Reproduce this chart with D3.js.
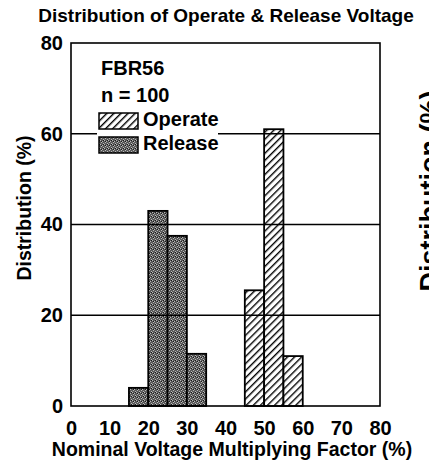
<!DOCTYPE html>
<head>
  <style>
    body { margin: 0; background: #fff; }
    text { font-family: "Liberation Sans", Arial, sans-serif; font-weight: bold; fill: #000; }
  </style>
</head>
<body>
<svg id="chart" width="429" height="468"></svg>
<script src="https://d3js.org/d3.v7.min.js"></script>
<script>

// bin start (%) and share of relays (%)
var releaseBins = [15, 20, 25, 30];
var releaseVals = [4, 43, 37.5, 11.5];
var operateBins = [45, 50, 55];
var operateVals = [25.5, 61, 11];
var binWidth = 5;
var xTicks = [0, 10, 20, 30, 40, 50, 60, 70, 80];
var yTicks = [0, 20, 40, 60, 80];
var gridVals = [20, 40, 60];

var svg = d3.select("#chart");
// note: "top" is window.top, so use other names
var plotL = 71, plotR = 380, plotT = 43, plotB = 406;

var x = d3.scaleLinear().domain([0, 80]).range([plotL, plotR]);
var y = d3.scaleLinear().domain([0, 80]).range([plotB, plotT]);

var defs = svg.append("defs");

// diagonal hatch for operate
var hatch = defs.append("pattern")
    .attr("id", "hatch")
    .attr("patternUnits", "userSpaceOnUse")
    .attr("width", 5).attr("height", 5)
    .attr("patternTransform", "rotate(45)");
hatch.append("rect").attr("width", 5).attr("height", 5).attr("fill", "#fff");
hatch.append("line").attr("x1", 0).attr("y1", 0).attr("x2", 0).attr("y2", 5)
    .attr("stroke", "#000").attr("stroke-width", 2.8);

// grainy dark stipple for release
var dots = defs.append("pattern")
    .attr("id", "stipple")
    .attr("patternUnits", "userSpaceOnUse")
    .attr("width", 4).attr("height", 4);
dots.append("rect").attr("width", 4).attr("height", 4).attr("fill", "#5a5a5a");
[[0,0],[2,1],[1,2],[3,3],[3,0],[1,1]].forEach(function(p, i) {
  dots.append("rect").attr("x", p[0]).attr("y", p[1]).attr("width", 1).attr("height", 1)
      .attr("fill", i < 4 ? "#b8b8b8" : "#1a1a1a");
});

svg.append("rect")
    .attr("x", plotL).attr("y", plotT)
    .attr("width", plotR - plotL).attr("height", plotB - plotT)
    .attr("fill", "#fff");

function drawBars(bins, vals, fill) {
  svg.append("g").selectAll("rect")
    .data(bins)
    .enter().append("rect")
      .attr("x", function(d) { return x(d); })
      .attr("y", function(d, i) { return y(vals[i]); })
      .attr("width", function(d) { return x(d + binWidth) - x(d); })
      .attr("height", function(d, i) { return y(0) - y(vals[i]); })
      .attr("fill", fill)
      .attr("stroke", "#000")
      .attr("stroke-width", 1.8);
}
drawBars(releaseBins, releaseVals, "url(#stipple)");
drawBars(operateBins, operateVals, "url(#hatch)");

// grid lines sit on top of the bars
svg.append("g").selectAll("line")
  .data(gridVals)
  .enter().append("line")
    .attr("x1", plotL).attr("x2", plotR)
    .attr("y1", function(d) { return y(d); })
    .attr("y2", function(d) { return y(d); })
    .attr("stroke", "#000").attr("stroke-width", 1.5);

svg.append("rect")
    .attr("x", plotL).attr("y", plotT)
    .attr("width", plotR - plotL).attr("height", plotB - plotT)
    .attr("fill", "none").attr("stroke", "#000").attr("stroke-width", 1.6);

var xAxis = svg.append("g")
    .attr("transform", "translate(0," + plotB + ")")
    .call(d3.axisBottom(x).tickValues(xTicks).tickSize(0).tickPadding(15));
var yAxis = svg.append("g")
    .attr("transform", "translate(" + plotL + ",0)")
    .call(d3.axisLeft(y).tickValues(yTicks).tickSize(0).tickPadding(8));
[xAxis, yAxis].forEach(function(a) {
  a.select(".domain").remove();
  a.attr("font-family", null).attr("font-size", null);
  a.selectAll("text").attr("font-size", 20).attr("fill", "#000");
});

// legend
var lg = svg.append("g");
lg.append("rect").attr("x", 97).attr("y", 110).attr("width", 121).attr("height", 45).attr("fill", "#fff");
lg.append("text").attr("x", 101).attr("y", 75).attr("font-size", 20).text("FBR56");
lg.append("text").attr("x", 101).attr("y", 102).attr("font-size", 20).text("n = 100");
var items = [["Operate", "url(#hatch)"], ["Release", "url(#stipple)"]];
items.forEach(function(it, i) {
  lg.append("rect").attr("x", 99).attr("y", 113 + i * 24).attr("width", 39).attr("height", 16)
      .attr("fill", it[1]).attr("stroke", "#000").attr("stroke-width", 1.5);
  lg.append("text").attr("x", 143).attr("y", 126 + i * 24).attr("font-size", 20).text(it[0]);
});

svg.append("text")
    .attr("x", 226).attr("y", 22)
    .attr("text-anchor", "middle").attr("font-size", 19)
    .text("Distribution of Operate & Release Voltage");

svg.append("text")
    .attr("x", 232).attr("y", 456)
    .attr("text-anchor", "middle").attr("font-size", 19.5)
    .text("Nominal Voltage Multiplying Factor (%)");

svg.append("text")
    .attr("transform", "translate(31,208) rotate(-90)")
    .attr("text-anchor", "middle").attr("font-size", 19.5)
    .text("Distribution (%)");

// next panel's axis title, cut by the edge
svg.append("text")
    .attr("transform", "translate(439,191) rotate(-90)")
    .attr("text-anchor", "middle").attr("font-size", 27)
    .text("Distribution (%)");

</script>
</body>
